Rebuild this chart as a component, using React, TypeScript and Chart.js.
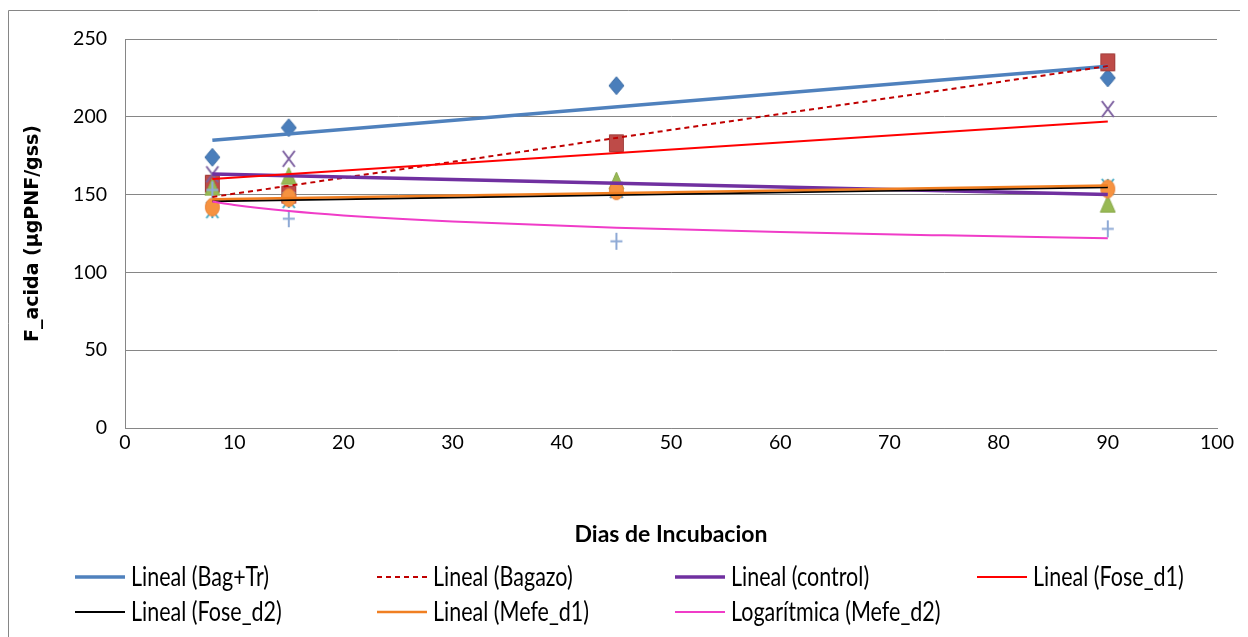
import { useEffect, useRef } from 'react';
import { Chart, registerables } from 'chart.js';

Chart.register(...registerables);

// ---- data ----
const days = [8, 15, 45, 90];
const bagTr = [174, 193, 220, 225];
const bagazo = [157, 150, 183, 235];
const control = [155, 162, 159, 144];
const foseD1 = [163, 173, 153, 205];
const foseD2 = [140, 146.5, 153, 155];
const mefeD1 = [142, 148, 152.5, 153.6];
const mefeD2 = [153, 134.5, 120, 128];

const seriesNames = ['Bag+Tr', 'Bagazo', 'control', 'Fose_d1', 'Fose_d2', 'Mefe_d1', 'Mefe_d2'];
const seriesValues = [bagTr, bagazo, control, foseD1, foseD2, mefeD1, mefeD2];

// trendlines
const trendDays = [8, 90];
const trendBagTr = [185, 232.5];
const trendBagazo = [148.5, 232.6];
const trendControl = [163.3, 150];
const trendFoseD1 = [160, 197];
const trendFoseD2 = [145.8, 154.8];
const trendMefeD1 = [147, 155.8];
const logDays = [8, 10, 15, 20, 30, 45, 60, 75, 90];
const logMefeD2 = [145.5, 143.3, 139.4, 136.6, 132.7, 128.7, 125.9, 123.8, 122];

const trendLabels = [
  'Lineal (Bag+Tr)',
  'Lineal (Bagazo)',
  'Lineal (control)',
  'Lineal (Fose_d1)',
  'Lineal (Fose_d2)',
  'Lineal (Mefe_d1)',
  'Logarítmica (Mefe_d2)',
];
const trendXs = [trendDays, trendDays, trendDays, trendDays, trendDays, trendDays, logDays];
const trendYs = [trendBagTr, trendBagazo, trendControl, trendFoseD1, trendFoseD2, trendMefeD1, logMefeD2];

const xTitle = 'Dias de Incubacion';
const yTitle = 'F_acida (µgPNF/gss)';

// ---- styles ----
const markerStyles = [
  { kind: 'diamond', w: 15, h: 18, fill: '#4A7EBB', stroke: '#3D6DA5' },
  { kind: 'square', w: 15, h: 18, fill: '#BE4B48', stroke: '#A03E3B' },
  { kind: 'triangle', w: 15, h: 17, fill: '#98B954', stroke: '#88A84A' },
  { kind: 'x', w: 14, h: 18, fill: '', stroke: '#7D60A0' },
  { kind: 'star', w: 14, h: 18, fill: '', stroke: '#4BACC6' },
  { kind: 'circle', w: 15, h: 19, fill: '#F69240', stroke: '#E9833A' },
  { kind: 'plus', w: 14, h: 19, fill: '', stroke: '#8EA9D5' },
];
const trendStyles = [
  { color: '#4F81BD', width: 3.5, dash: [] as number[] },
  { color: '#C00000', width: 2, dash: [5, 4] },
  { color: '#7030A0', width: 3.5, dash: [] as number[] },
  { color: '#FF0000', width: 2, dash: [] as number[] },
  { color: '#000000', width: 2, dash: [] as number[] },
  { color: '#F07F22', width: 2.5, dash: [] as number[] },
  { color: '#F03CC8', width: 2, dash: [] as number[] },
];

const legendCols = [67, 369, 667, 969];
const legendRows = [569, 604];

const sans = 'Lato, "Liberation Sans", sans-serif';

function makeMarker(m: { kind: string; w: number; h: number; fill: string; stroke: string }) {
  const c = document.createElement('canvas');
  c.width = m.w + 2;
  c.height = m.h + 2;
  const ctx = c.getContext('2d')!;
  const cx = c.width / 2;
  const cy = c.height / 2;
  const hw = m.w / 2;
  const hh = m.h / 2;
  ctx.lineWidth = 1;
  ctx.fillStyle = m.fill;
  ctx.strokeStyle = m.stroke;
  ctx.beginPath();
  if (m.kind === 'diamond') {
    ctx.moveTo(cx, cy - hh);
    ctx.lineTo(cx + hw, cy);
    ctx.lineTo(cx, cy + hh);
    ctx.lineTo(cx - hw, cy);
    ctx.closePath();
    ctx.fill();
    ctx.stroke();
  } else if (m.kind === 'square') {
    ctx.rect(cx - hw + 0.5, cy - hh + 0.5, m.w - 1, m.h - 1);
    ctx.fill();
    ctx.stroke();
  } else if (m.kind === 'triangle') {
    ctx.moveTo(cx, cy - hh);
    ctx.lineTo(cx + hw, cy + hh);
    ctx.lineTo(cx - hw, cy + hh);
    ctx.closePath();
    ctx.fill();
    ctx.stroke();
  } else if (m.kind === 'circle') {
    ctx.ellipse(cx, cy, hw - 0.5, hh - 0.5, 0, 0, Math.PI * 2);
    ctx.fill();
    ctx.stroke();
  } else {
    ctx.lineWidth = 2;
    if (m.kind === 'x' || m.kind === 'star') {
      ctx.moveTo(cx - hw + 1, cy - hh + 1);
      ctx.lineTo(cx + hw - 1, cy + hh - 1);
      ctx.moveTo(cx + hw - 1, cy - hh + 1);
      ctx.lineTo(cx - hw + 1, cy + hh - 1);
    }
    if (m.kind === 'star' || m.kind === 'plus') {
      ctx.moveTo(cx, cy - hh + 1);
      ctx.lineTo(cx, cy + hh - 1);
    }
    if (m.kind === 'plus') {
      ctx.moveTo(cx - hw + 1, cy);
      ctx.lineTo(cx + hw - 1, cy);
    }
    ctx.stroke();
  }
  return c;
}

const frameAndLegend = {
  id: 'frameAndLegend',
  beforeDraw(chart: any) {
    const { ctx } = chart;
    ctx.save();
    ctx.strokeStyle = '#868686';
    ctx.lineWidth = 1;
    ctx.beginPath();
    ctx.moveTo(0.5, chart.height);
    ctx.lineTo(0.5, 2.5);
    ctx.lineTo(chart.width, 2.5);
    ctx.stroke();
    ctx.restore();
  },
  afterDraw(chart: any) {
    const { ctx } = chart;
    ctx.save();
    trendLabels.forEach((label, i) => {
      const ds = chart.data.datasets[i];
      const col = i % 4;
      const row = Math.floor(i / 4);
      const x = legendCols[col];
      const y = legendRows[row];
      ctx.strokeStyle = ds.borderColor;
      ctx.lineWidth = ds.borderWidth;
      ctx.setLineDash(ds.borderDash || []);
      ctx.beginPath();
      ctx.moveTo(x, y);
      ctx.lineTo(x + 50, y);
      ctx.stroke();
      ctx.setLineDash([]);
      ctx.save();
      ctx.translate(x + 56, y + 1);
      ctx.scale(1, 1.22);
      ctx.fillStyle = '#000';
      ctx.font = `21.5px ${sans}`;
      ctx.textBaseline = 'middle';
      ctx.textAlign = 'left';
      ctx.fillText(label, 0, 0);
      ctx.restore();
    });
    ctx.restore();
  },
};

export default function App() {
  const ref = useRef<HTMLCanvasElement>(null);

  useEffect(() => {
    if (!ref.current) return;

    const trendDatasets = trendLabels.map((label, i) => ({
      type: 'scatter' as const,
      label,
      data: trendXs[i].map((x, j) => ({ x, y: trendYs[i][j] })),
      showLine: true,
      borderColor: trendStyles[i].color,
      backgroundColor: trendStyles[i].color,
      borderWidth: trendStyles[i].width,
      borderDash: trendStyles[i].dash,
      pointRadius: 0,
      pointHoverRadius: 0,
      cubicInterpolationMode: 'monotone' as const,
      order: 7 - i,
    }));

    const pointDatasets = seriesNames.map((name, i) => ({
      type: 'scatter' as const,
      label: name,
      data: days.map((x, j) => ({ x, y: seriesValues[i][j] })),
      showLine: false,
      pointStyle: makeMarker(markerStyles[i]) as any,
      pointRadius: 9,
      order: 14 - i,
    }));

    const chart = new Chart(ref.current, {
      type: 'scatter',
      data: { datasets: [...trendDatasets, ...pointDatasets] as any },
      plugins: [frameAndLegend],
      options: {
        animation: false,
        responsive: true,
        maintainAspectRatio: false,
        layout: { padding: { left: 0, right: 31, top: 31, bottom: 89 } },
        plugins: {
          legend: { display: false },
          tooltip: { enabled: false },
        },
        scales: {
          x: {
            type: 'linear',
            min: 0,
            max: 100,
            ticks: {
              stepSize: 10,
              color: '#000',
              font: { family: sans, size: 19.5 },
              padding: 3,
            },
            grid: { display: false, drawTicks: false },
            border: { display: true, color: '#868686', width: 1 },
            title: {
              display: true,
              text: xTitle,
              color: '#000',
              font: { family: sans, size: 23, weight: 'bold' },
              padding: { top: 0, bottom: 0 },
            },
            afterFit: (s: any) => {
              s.height = 120;
            },
          },
          y: {
            type: 'linear',
            min: 0,
            max: 250,
            ticks: {
              stepSize: 50,
              color: '#000',
              font: { family: sans, size: 19.5 },
              padding: 18,
            },
            grid: { color: '#868686', lineWidth: 1, drawTicks: false },
            border: { display: true, color: '#868686', width: 1 },
            title: {
              display: true,
              text: yTitle,
              color: '#000',
              font: { family: '"DejaVu Sans", sans-serif', size: 19, weight: 'bold' },
              padding: { top: 14, bottom: 0 },
            },
            afterFit: (s: any) => {
              s.width = 117;
            },
          },
        },
      } as any,
    });

    return () => chart.destroy();
  }, []);

  return (
    <div style={{ width: 1240, height: 629, position: 'relative' }}>
      <canvas ref={ref} />
    </div>
  );
}
